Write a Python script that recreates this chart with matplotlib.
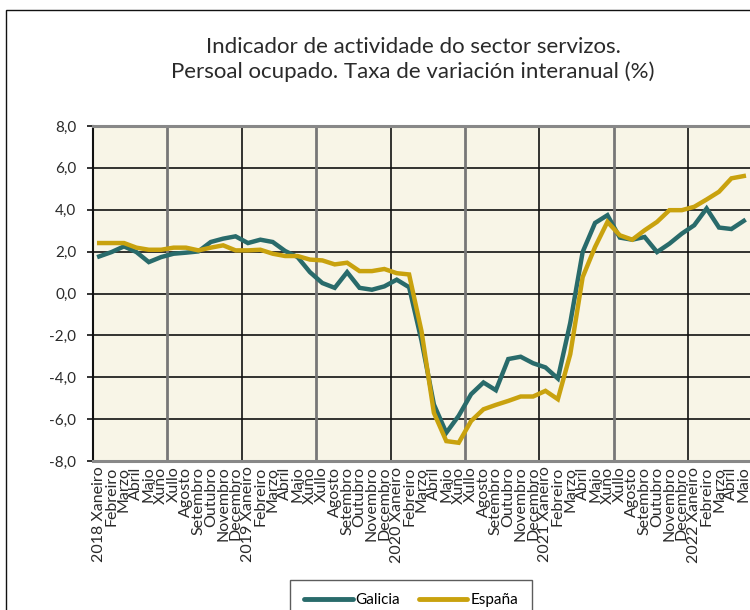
import matplotlib
matplotlib.use("Agg")
import matplotlib.pyplot as plt
from matplotlib.patches import Rectangle
from matplotlib.lines import Line2D

plt.rcParams['font.family'] = ['Lato', 'DejaVu Sans']

months = ["Xaneiro", "Febreiro", "Marzo", "Abril", "Maio", "Xuño", "Xullo",
          "Agosto", "Setembro", "Outubro", "Novembro", "Decembro"]
years = [2018, 2019, 2020, 2021, 2022]
n_points = 53

galicia = [1.77, 1.98, 2.25, 1.98, 1.50, 1.74, 1.90, 1.95, 2.01, 2.46, 2.62, 2.73,
           2.41, 2.57, 2.46, 2.03, 1.74, 1.02, 0.50, 0.27, 1.02, 0.27, 0.18, 0.34,
           0.66, 0.30, -2.25, -5.30, -6.65, -5.84, -4.81, -4.25, -4.62, -3.13, -3.02, -3.33,
           -3.53, -4.06, -1.40, 1.98, 3.37, 3.74, 2.67, 2.57, 2.70, 1.98, 2.38, 2.86,
           3.26, 4.06, 3.15, 3.08, 3.47]
espana = [2.41, 2.41, 2.41, 2.19, 2.09, 2.09, 2.19, 2.19, 2.06, 2.19, 2.30, 2.06,
          2.06, 2.09, 1.90, 1.79, 1.79, 1.62, 1.58, 1.39, 1.47, 1.07, 1.07, 1.17,
          0.97, 0.91, -1.80, -5.70, -7.05, -7.13, -6.09, -5.53, -5.32, -5.13, -4.92, -4.92,
          -4.65, -5.05, -2.90, 0.78, 2.22, 3.42, 2.78, 2.57, 3.02, 3.42, 3.98, 3.98,
          4.14, 4.49, 4.86, 5.50, 5.61]

labels = []
for i in range(n_points):
    y = years[i // 12]
    m = months[i % 12]
    labels.append(f"{y} {m}" if i % 12 == 0 else m)

yticks = [-8, -6, -4, -2, 0, 2, 4, 6, 8]
ytick_labels = [f"{v:.1f}".replace(".", ",") for v in yticks]

c_gal = "#296B6B"
c_esp = "#C9A20E"
bg = "#F8F5E7"
txt = "#2a2a2a"

W, H = 750, 610
fig = plt.figure(figsize=(W / 100, H / 100), dpi=100)
ax = fig.add_axes([93 / W, 1 - 461 / H, 657 / W, (461 - 126) / H])
ax.set_facecolor(bg)

x = list(range(n_points))
ax.set_xlim(-0.5, n_points - 0.5)
ax.set_ylim(-8, 8)

# grid
for v in yticks[1:-1]:
    ax.axhline(v, color="#111111", lw=1.2, zorder=1)
for k in range(1, 9):
    xv = -0.5 + 6 * k
    if k % 2 == 0:
        ax.axvline(xv, color="#111111", lw=1.2, zorder=1)
    else:
        ax.axvline(xv, color="#777777", lw=2.0, zorder=1)

ax.plot(x, galicia, color=c_gal, lw=3.2, zorder=3, solid_joinstyle="miter")
ax.plot(x, espana, color=c_esp, lw=3.2, zorder=4, solid_joinstyle="miter")

ax.set_yticks(yticks)
ax.set_yticklabels(ytick_labels, fontsize=11, color=txt)
ax.set_xticks(x)
ax.set_xticklabels(labels, rotation=90, fontsize=11.5, color=txt)
ax.tick_params(axis="x", length=0, pad=4)
ax.tick_params(axis="y", length=4, width=1.2, color="#111111", pad=8, direction="out")

for s in ["top", "bottom"]:
    ax.spines[s].set_color("#888888")
    ax.spines[s].set_linewidth(2.2)
ax.spines["left"].set_color("#111111")
ax.spines["left"].set_linewidth(1.5)
ax.spines["right"].set_visible(False)

fig.text(413 / W, 1 - 47 / H, "Indicador de actividade do sector servizos.",
         ha="center", va="center", fontsize=16, color=txt)
fig.text(413 / W, 1 - 72 / H, "Persoal ocupado. Taxa de variación interanual (%)",
         ha="center", va="center", fontsize=16, color=txt)

fig.patches.append(Rectangle((6 / W, -0.1), 1.2, 1.1 - 10 / H, transform=fig.transFigure,
                             fill=False, edgecolor="#111111", lw=1.0, clip_on=False))

handles = [Line2D([], [], color=c_gal, lw=3.5, solid_capstyle="round"),
           Line2D([], [], color=c_esp, lw=3.5, solid_capstyle="round")]
leg = fig.legend(handles, ["Galicia", "España"], loc="upper center",
                 bbox_to_anchor=(411 / W, 1 - 572 / H), ncol=2,
                 prop={"size": 11},
                 frameon=True, fancybox=False, edgecolor="#333333",
                 handlelength=3.2, handletextpad=0.2, columnspacing=1.2,
                 borderpad=0.9)
leg.get_frame().set_linewidth(1.0)

fig.savefig("out.png", dpi=100)
